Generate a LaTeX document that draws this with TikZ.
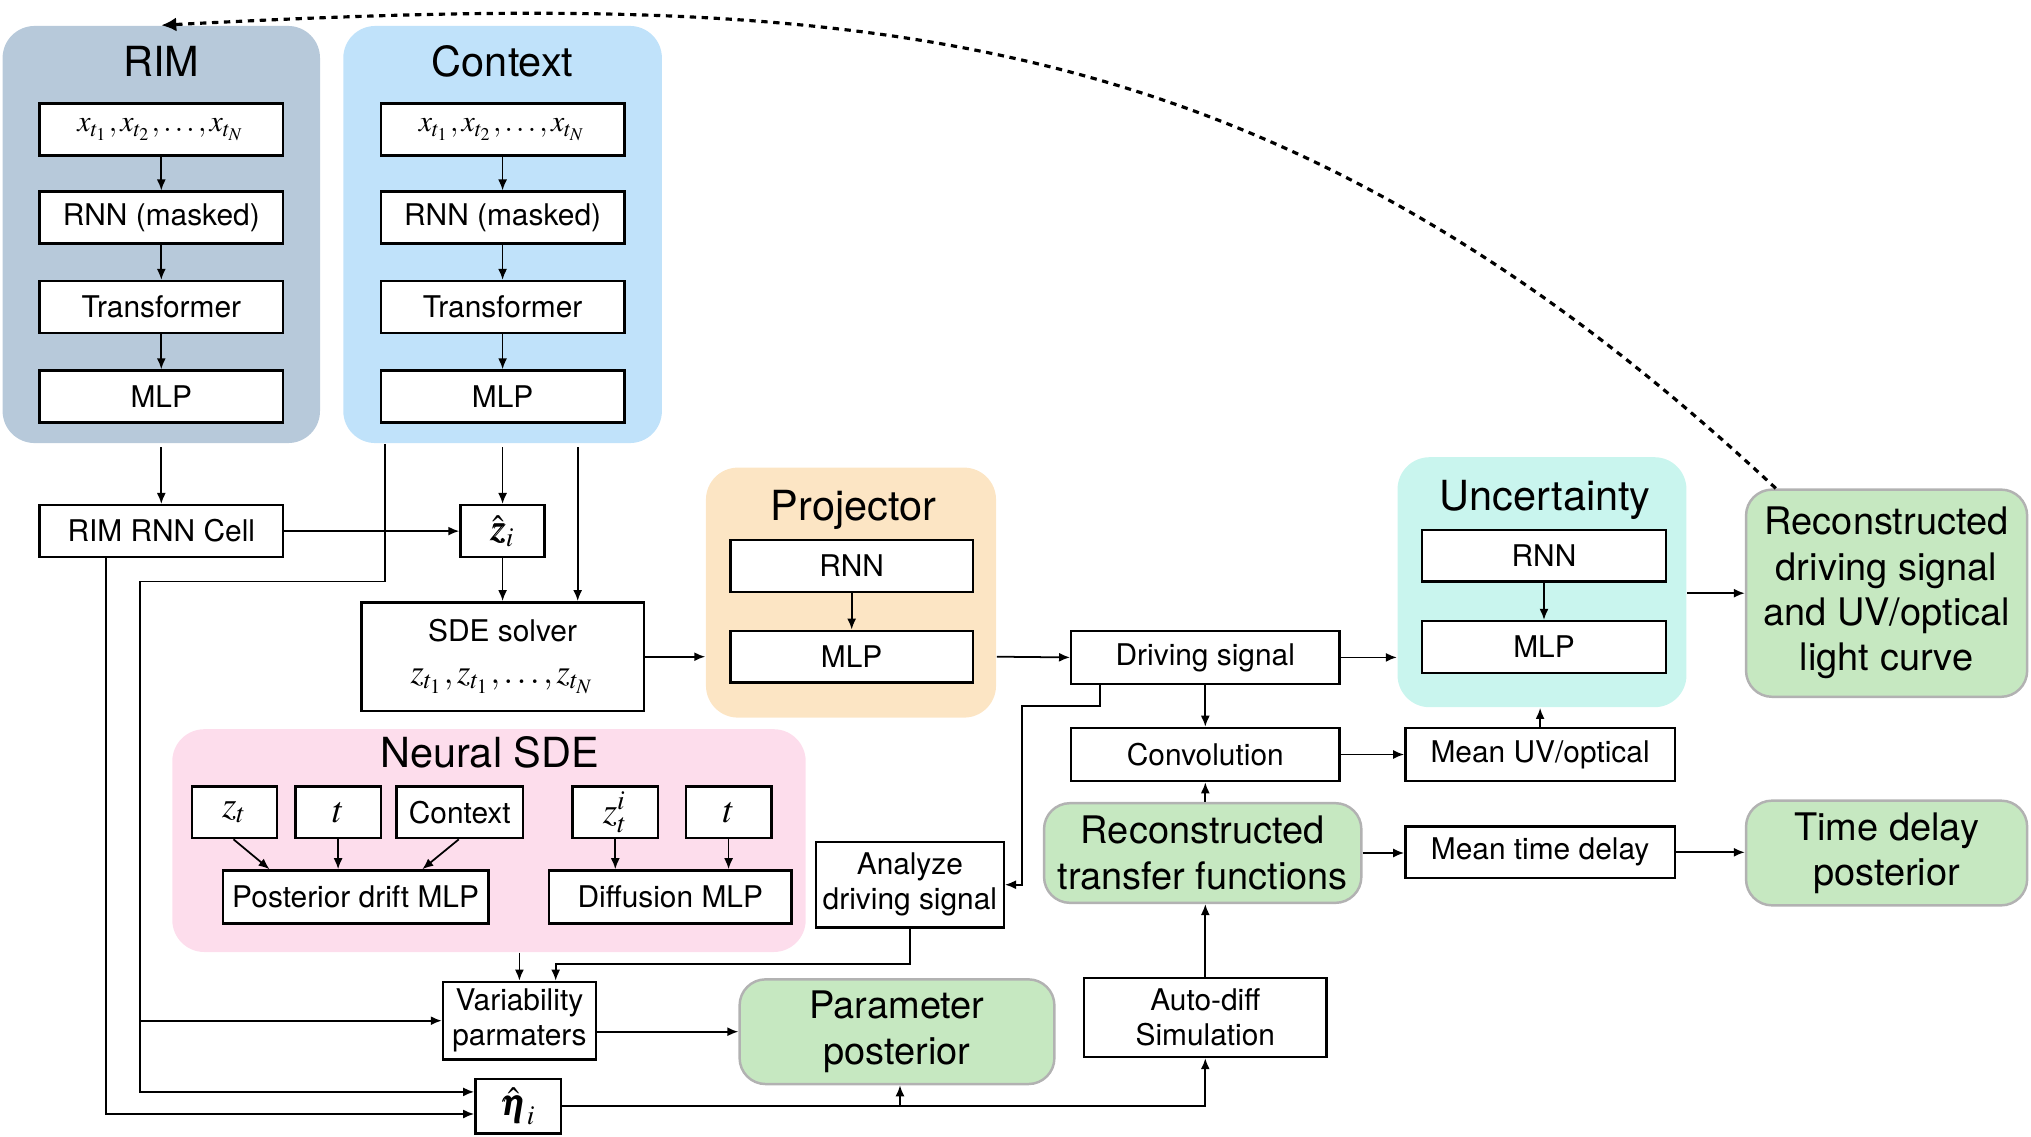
\documentclass[tikz,border=0pt]{standalone}
\usepackage{amsmath}
\usepackage{mathptmx}
\usepackage{bm}
\usepackage{fontspec}
\setmainfont{TeX Gyre Heros}
\usetikzlibrary{arrows.meta}
\definecolor{rimcol}{RGB}{183,201,218}
\definecolor{ctxcol}{RGB}{192,226,250}
\definecolor{projcol}{RGB}{252,229,196}
\definecolor{unccol}{RGB}{201,245,238}
\definecolor{sdecol}{RGB}{253,221,236}
\definecolor{rescol}{RGB}{198,232,193}
\begin{document}
\begin{tikzpicture}[arr/.style = {-{Latex[length=1.1mm,width=0.9mm]}, line width=0.5pt},
  box/.style = {draw, fill=white, line width=0.7pt, inner sep=1pt, align=center, minimum width=2.435cm, minimum height=0.518cm, font=\fontsize{8.5}{9.9}\selectfont},
  mathbox/.style = {box, minimum width=0.855cm, font=\fontsize{10.5}{12}\selectfont},
  panel/.style = {rounded corners=0.32cm, inner sep=0pt, minimum height=2.5cm},
  title/.style = {font=\fontsize{11.8}{14}\selectfont},
  result/.style = {draw=black!30, fill=rescol, line width=0.7pt, rounded corners=0.26cm, align=center, minimum width=2.811cm, minimum height=0.997cm, font=\fontsize{10.8}{12.9}\selectfont}]
  \useasboundingbox (0,0) rectangle (20.31,-11.37);
  \node[panel, fill=rimcol, minimum width=3.174cm, minimum height=4.171cm] (rim) at (1.613,-2.345) {};
  \node[panel, fill=ctxcol, minimum width=3.186cm, minimum height=4.171cm] (ctx) at (5.026,-2.345) {};
  \node[title] (rimt) at (1.613,-0.609) {RIM};
  \node[title] (ctxt) at (5.026,-0.609) {Context};
  \node[box] (rimx) at (1.613,-1.295) {$x_{t_1}, x_{t_2}, \dots, x_{t_N}$};
  \node[box] (rimrnn) at (1.613,-2.176) {RNN (masked)};
  \node[box] (rimtr) at (1.613,-3.070) {Transformer};
  \node[box] (rimmlp) at (1.613,-3.964) {MLP};
  \node[box] (ctxx) at (5.026,-1.295) {$x_{t_1}, x_{t_2}, \dots, x_{t_N}$};
  \node[box] (ctxrnn) at (5.026,-2.176) {RNN (masked)};
  \node[box] (ctxtr) at (5.026,-3.070) {Transformer};
  \node[box] (ctxmlp) at (5.026,-3.964) {MLP};
  \node[box] (rimcell) at (1.613,-5.311) {RIM RNN Cell};
  \node[mathbox, minimum width=0.842cm] (zhat) at (5.026,-5.311) {$\hat{\bm{z}}_i$};
  \node[box, minimum width=2.824cm, minimum height=1.088cm] (sde) at (5.026,-6.567) {SDE solver\\[2pt] \fontsize{9.7}{11}\selectfont $z_{t_1}, z_{t_1}, \dots, z_{t_N}$};
  \node[panel, fill=projcol, minimum width=2.901cm] (proj) at (8.510,-5.926) {};
  \node[title] (projt) at (8.536,-5.103) {Projector};
  \node[box, minimum width=2.422cm] (projrnn) at (8.517,-5.660) {RNN};
  \node[box, minimum width=2.422cm] (projmlp) at (8.517,-6.567) {MLP};
  \node[box, minimum width=2.681cm, minimum height=0.531cm] (drive) at (12.053,-6.574) {Driving signal};
  \node[panel, fill=unccol, minimum width=2.889cm] (unc) at (15.420,-5.822) {};
  \node[title] (unct) at (15.453,-5.000) {Uncertainty};
  \node[box] (uncrnn) at (15.440,-5.557) {RNN};
  \node[box] (uncmlp) at (15.440,-6.470) {MLP};
  \node[result, minimum height=2.072cm] (recdrive) at (18.866,-5.932) {Reconstructed\\driving signal\\and UV/optical\\light curve};
  \node[box, minimum width=2.681cm, minimum height=0.531cm] (conv) at (12.053,-7.545) {Convolution};
  \node[box, minimum width=2.694cm, minimum height=0.531cm] (meanuv) at (15.401,-7.545) {Mean UV/optical};
  \node[result, minimum width=3.173cm] (rectf) at (12.027,-8.530) {Reconstructed\\transfer functions};
  \node[box, minimum width=2.694cm] (meantd) at (15.401,-8.523) {Mean time delay};
  \node[result] (tdpost) at (18.866,-8.530) {Time delay\\posterior};
  \node[box, minimum width=2.422cm, minimum height=0.790cm] (autodiff) at (12.053,-10.175) {Auto-diff\\Simulation};
  \node[mathbox, minimum height=0.544cm] (etahat) at (5.181,-11.062) {$\hat{\bm{\eta}}_i$};
  \node[result, minimum width=3.148cm] (parpost) at (8.970,-10.317) {Parameter\\posterior};
  \node[box, minimum width=1.528cm, minimum height=0.777cm] (var) at (5.194,-10.207) {Variability\\parmaters};
  \node[panel, fill=sdecol, minimum width=6.334cm, minimum height=2.228cm] (nsde) at (4.890,-8.406) {};
  \node[title] (nsdet) at (4.896,-7.526) {Neural SDE};
  \node[mathbox] (zt) at (2.345,-8.122) {$z_t$};
  \node[mathbox] (tt) at (3.381,-8.122) {$t$};
  \node[box, minimum width=1.269cm] (ctxs) at (4.598,-8.122) {Context};
  \node[mathbox] (zti) at (6.153,-8.122) {$z_t^i$};
  \node[mathbox] (tt2) at (7.286,-8.122) {$t$};
  \node[box, minimum width=2.655cm, minimum height=0.531cm] (pdrift) at (3.556,-8.970) {Posterior drift MLP};
  \node[box, minimum width=2.422cm, minimum height=0.531cm] (diff) at (6.703,-8.970) {Diffusion MLP};
  \node[box, minimum width=1.878cm, minimum height=0.855cm] (ana) at (9.099,-8.847) {Analyze\\driving signal};
  \coordinate (c1) at (3.847,-5.816);
  \coordinate (c2) at (1.399,-5.816);
  \draw[arr] (rimx) to (rimrnn);
  \draw[arr] (rimrnn) to (rimtr);
  \draw[arr] (rimtr) to (rimmlp);
  \draw[arr] (ctxx) to (ctxrnn);
  \draw[arr] (ctxrnn) to (ctxtr);
  \draw[arr] (ctxtr) to (ctxmlp);
  \draw[arr] ([yshift=-1pt]rim.south) to (rimcell.north);
  \draw[arr] ([yshift=-1pt]ctx.south) to (zhat.north);
  \draw[arr] (rimcell.east) to (zhat.west);
  \draw[arr] (zhat.south) to (sde.north);
  \draw[arr] ([xshift=0.751cm,yshift=-1pt]ctx.south) to ([xshift=0.751cm]ctx.south |- sde.north);
  \draw[arr] (c1 |- ctx.south) -- (c1) -- (c2) |- ([yshift=0.143cm]etahat.west);
  \draw[arr] (c2 |- var.west) -- (var.west);
  \draw[arr] ([xshift=-0.551cm]rimcell.south) |- ([yshift=-0.078cm]etahat.west);
  \draw[arr] (sde.east) to (sde.east -| proj.west);
  \draw[arr] (projrnn) to (projmlp);
  \draw[arr] (projmlp -| proj.east) to (drive.west);
  \draw[arr] (drive.east) to (drive.east -| unc.west);
  \draw[arr] (uncrnn) to (uncmlp);
  \draw[arr] (recdrive.west -| unc.east) to (recdrive.west);
  \draw[arr] (drive.south) to (conv.north);
  \draw[arr] ([xshift=-1.056cm]drive.south) |- (10.220,-7.059) |- (ana.east);
  \draw[arr] (conv.east) to (meanuv.west);
  \draw[arr] (meanuv.north) to (meanuv.north |- unc.south);
  \draw[arr] (rectf.north -| conv.south) to (conv.south);
  \draw[arr] (rectf.east) to (rectf.east -| meantd.west);
  \draw[arr] (meantd.east) to (meantd.east -| tdpost.west);
  \draw[arr] (autodiff.north) to (autodiff.north |- rectf.south);
  \draw[arr] (etahat.east) -| (autodiff.south);
  \draw[arr] ([xshift=0.03cm]parpost.south |- etahat.east) to ([xshift=0.03cm]parpost.south);
  \draw[arr] (var.east |- parpost.west) to (parpost.west);
  \draw[arr] (nsde.south -| var.north) to (var.north);
  \draw[arr] (ana.south) -- ++(0,-0.35) -| ([xshift=0.363cm]var.north);
  \draw[arr] ([xshift=-0.01cm]zt.south) to ([xshift=-0.861cm]pdrift.north);
  \draw[arr] (tt.south) to (tt.south |- pdrift.north);
  \draw[arr] ([xshift=-0.01cm]ctxs.south) to ([xshift=0.667cm]pdrift.north);
  \draw[arr] (zti.south) to (zti.south |- diff.north);
  \draw[arr] (tt2.south) to (tt2.south |- diff.north);
  \draw[-{Latex[length=1.5mm,width=1.4mm]}, line width=0.9pt, dash pattern=on 1.8pt off 1.6pt] ([xshift=0.31cm]recdrive.north west) .. controls (12.64,-0.11) and (8.57,0.11) .. (rim.north);
\end{tikzpicture}
\end{document}
